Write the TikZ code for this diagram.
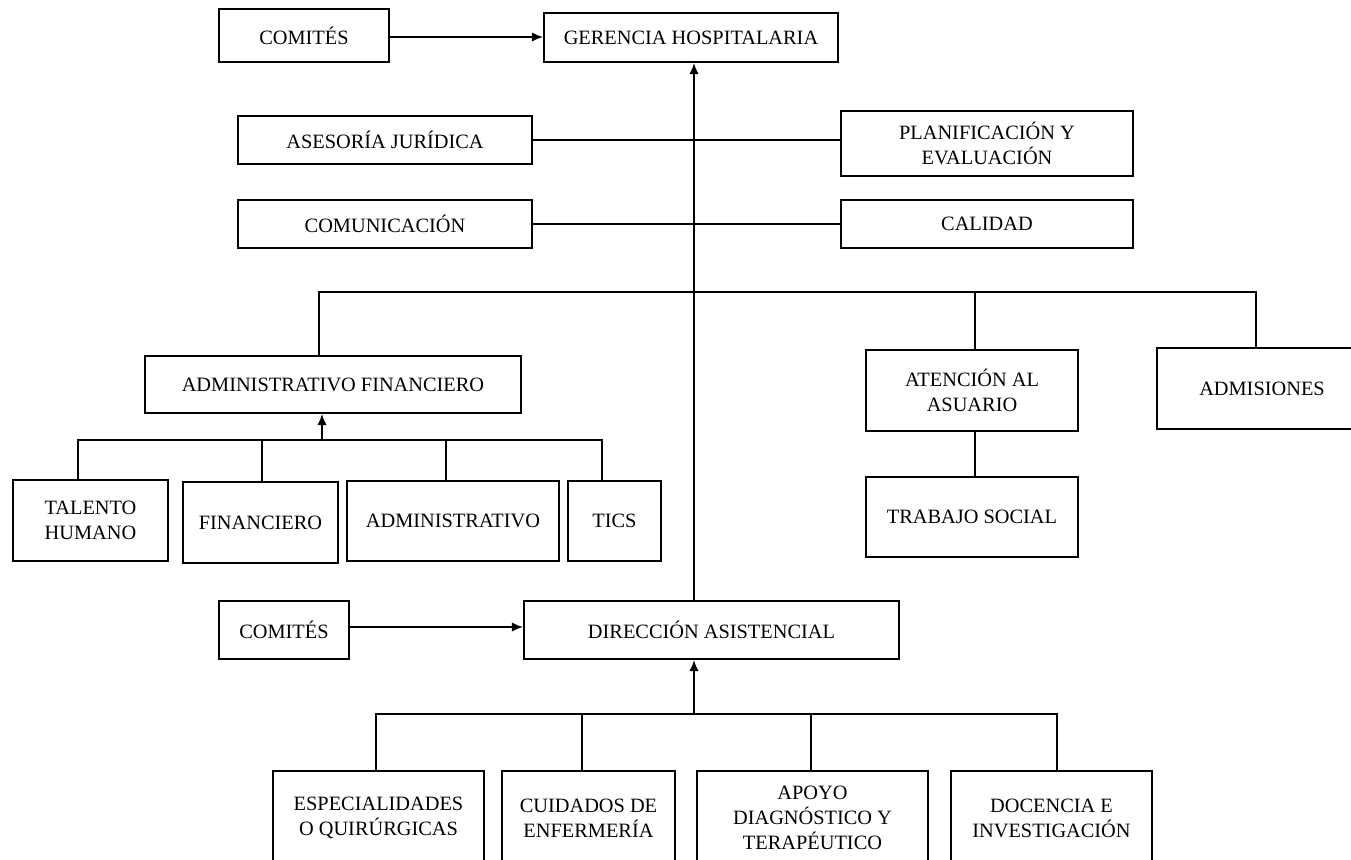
\documentclass[tikz,border=0pt]{standalone}
\usepackage{fontspec}
\setmainfont{Liberation Serif}
\usetikzlibrary{arrows.meta, positioning, calc}

\tikzset{
  box/.style 2 args={draw, line width=1pt, align=center, inner sep=0pt,
    minimum width=#1*0.019cm, minimum height=#2*0.019cm,
    font=\fontsize{11}{13.5}\selectfont},
  link/.style={line width=1pt},
  arr/.style={line width=1pt, -{Latex[length=6pt,width=5pt]}}
}

\begin{document}
\begin{tikzpicture}[x=0.019cm, y=-0.019cm]
  \clip (0,0) rectangle (1351,859);

  % Top level
  \node[box={170}{53}] (comitesA) at (304,35.5) {COMITÉS};
  \node[box={294}{49}] (gerencia) at (691,37.5) {GERENCIA HOSPITALARIA};

  % Staff units
  \node[box={294}{48}] (asesoria) at (385,140) {ASESORÍA JURÍDICA};
  \node[box={292}{65}] (planif) at (987,143.5) {PLANIFICACIÓN Y\\EVALUACIÓN};
  \node[box={294}{48}] (comunic) at (385,224) {COMUNICACIÓN};
  \node[box={292}{48}] (calidad) at (987,224) {CALIDAD};

  % Second level
  \node[box={376}{57}] (admfin) at (333,384.5) {ADMINISTRATIVO FINANCIERO};
  \node[box={212}{81}] (atencion) at (972,390.5) {ATENCIÓN AL\\ASUARIO};
  \node[box={212}{80}] (trabajo) at (972,517) {TRABAJO SOCIAL};
  \node[box={210}{81}] (admis) at (1262,388.5) {ADMISIONES};

  % Administrative units
  \node[box={155}{81}] (talento) at (90.5,520.5) {TALENTO\\HUMANO};
  \node[box={155}{81}] (financ) at (260.5,522.5) {FINANCIERO};
  \node[box={212}{80}] (admin) at (453,521) {ADMINISTRATIVO};
  \node[box={93}{80}] (tics) at (614.5,521) {TICS};

  % Care direction
  \node[box={130}{58}] (comitesB) at (284,630) {COMITÉS};
  \node[box={375}{58}] (direccion) at (711.5,630) {DIRECCIÓN ASISTENCIAL};

  % Care units
  \node[box={211}{94}] (espec) at (378.5,818) {ESPECIALIDADES\\O QUIRÚRGICAS};
  \node[box={173}{94}] (cuidados) at (588.5,818) {CUIDADOS DE\\ENFERMERÍA};
  \node[box={231}{94}] (apoyo) at (812.5,818) {APOYO\\DIAGNÓSTICO Y\\TERAPÉUTICO};
  \node[box={201}{94}] (docencia) at (1051.5,818) {DOCENCIA E\\INVESTIGACIÓN};

  % Bus points
  \coordinate (spine) at (694,0);
  \coordinate (busA) at (319,292);
  \coordinate (busB) at (1256,292);
  \coordinate (tapAt) at (975,292);
  \coordinate (busC) at (78,440);
  \coordinate (busD) at (602,440);
  \coordinate (busE) at (322,440);
  \coordinate (tapFin) at (262,440);
  \coordinate (tapAdm) at (446,440);
  \coordinate (busF) at (376,714);
  \coordinate (busG) at (1057,714);
  \coordinate (tapCui) at (582,714);
  \coordinate (tapApo) at (811,714);

  % Main spine
  \draw[arr] (comitesA.east |- 0,37) -- (gerencia.west |- 0,37);
  \draw[arr] (direccion.north -| spine) -- (gerencia.south -| spine);
  \draw[link] (asesoria.east) -- (asesoria.east -| planif.west);
  \draw[link] (comunic.east) -- (comunic.east -| calidad.west);

  % Upper bus
  \draw[link] (busA |- admfin.north) -- (busA) -- (busB) -- (busB |- admis.north);
  \draw[link] (tapAt) -- (tapAt |- atencion.north);
  \draw[link] (tapAt |- atencion.south) -- (tapAt |- trabajo.north);

  % Administrative bus
  \draw[link] (busC |- talento.north) -- (busC) -- (busD) -- (busD |- tics.north);
  \draw[link] (tapFin) -- (tapFin |- financ.north);
  \draw[link] (tapAdm) -- (tapAdm |- admin.north);
  \draw[arr] (busE) -- (busE |- admfin.south);

  % Care bus
  \draw[arr] (comitesB.east |- 0,627) -- (direccion.west |- 0,627);
  \draw[link] (busF |- espec.north) -- (busF) -- (busG) -- (busG |- docencia.north);
  \draw[link] (tapCui) -- (tapCui |- cuidados.north);
  \draw[link] (tapApo) -- (tapApo |- apoyo.north);
  \draw[arr] (busF -| spine) -- (direccion.south -| spine);
\end{tikzpicture}
\end{document}
